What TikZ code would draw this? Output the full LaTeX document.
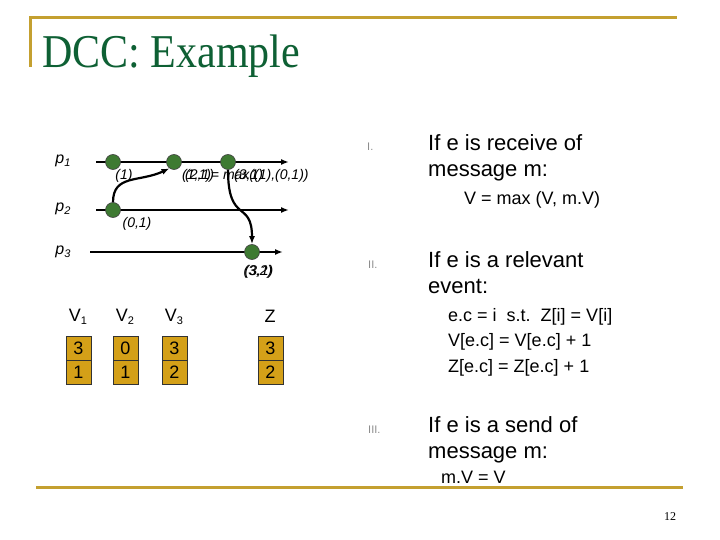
\documentclass[tikz,border=0pt]{standalone}
\usepackage{fontspec}
\setmainfont{Liberation Sans}
\newfontfamily\serifface{Liberation Serif}
\usetikzlibrary{arrows.meta}

\definecolor{slidegold}{RGB}{196,160,48}
\definecolor{slidegreen}{RGB}{14,96,52}
\definecolor{dotgreen}{RGB}{62,122,50}
\definecolor{cellgold}{RGB}{212,160,24}

\newcommand{\sub}[1]{\raisebox{-3pt}{\fontsize{11}{11}\selectfont #1}}

\begin{document}
\begin{tikzpicture}[x=1pt, y=-1pt,
	proc/.style={line width=2pt, -{Latex[length=8pt,width=6pt]}},
	msg/.style={line width=2.2pt, -{Latex[length=8pt,width=6pt]}},
	event/.style={circle, fill=dotgreen, draw=black!75, line width=0.6pt, minimum size=15pt, inner sep=0pt},
	plab/.style={font=\fontsize{16}{18}\selectfont\itshape},
	evlab/.style={font=\fontsize{14}{16}\selectfont\itshape, inner sep=0pt},
	cell/.style={draw=black!80, fill=cellgold, minimum width=25pt, minimum height=24pt, inner sep=0pt, font=\fontsize{18}{20}\selectfont},
	vlab/.style={font=\fontsize{18}{20}\selectfont},
	numeral/.style={font=\fontsize{11}{12}\selectfont, text=black!45, anchor=base west, inner sep=0pt},
	bodytext/.style={font=\fontsize{22}{26}\selectfont, anchor=base west, inner sep=0pt},
	subtext/.style={font=\fontsize{18}{20}\selectfont, anchor=base west, inner sep=0pt},
	rule/.style={line width=3pt, slidegold}
	]
	\useasboundingbox (0,0) rectangle (720,540);

	% frame of the slide
	\draw[rule] (30,67) -- (30,18) -- (677,18);
	\draw[rule] (36,487) -- (683,487);
	\node[anchor=base west, inner sep=0pt, text=slidegreen, font=\serifface\fontsize{42}{44}\selectfont] (title) at (42,68) {\scalebox{1}[1.12]{DCC: Example}};
	\node[font=\serifface\fontsize{12}{14}\selectfont] (page) at (670,517) {12};

	% processes
	\node[plab] (p1) at (63,161) {p\sub{1}};
	\node[plab] (p2) at (63,209) {p\sub{2}};
	\node[plab] (p3) at (63,252) {p\sub{3}};
	\coordinate (p1s) at (96,162);  \coordinate (p1e) at (289,162);
	\coordinate (p2s) at (96,210);  \coordinate (p2e) at (289,210);
	\coordinate (p3s) at (90,252);  \coordinate (p3e) at (283,252);
	\draw[proc] (p1s) -- (p1e);
	\draw[proc] (p2s) -- (p2e);
	\draw[proc] (p3s) -- (p3e);

	% events
	\node[event] (p1a) at (113,162) {};
	\node[event] (p1b) at (174,162) {};
	\node[event] (p1c) at (228,162) {};
	\node[event] (p2a) at (113,210) {};
	\node[event] (p3a) at (252,252) {};

	% messages
	\draw[msg] (p2a.north) .. controls +(0,-28) and +(-30,14) .. (p1b.235);
	\draw[msg] (p1c.south) .. controls +(0,55) and +(0,-45) .. (p3a.north);

	% vector labels
	\node[evlab] (l1) at (124,176) {(1)};
	\node[evlab, anchor=west] (l2) at (182,176) {(1,1)= max((1),(0,1))};
	\node[evlab, anchor=west] (l2b) at (185,176) {(2,1)};
	\node[evlab, anchor=west] (l2c) at (234,176) {(3,1)};
	\node[evlab] (l3) at (137,224) {(0,1)};
	\node[evlab] (l4) at (258,272) {(3,2)};
	\node[evlab] (l4b) at (259,272) {(3,1)};

	% vectors
	\node[vlab] (v1) at (78,317) {V\sub{1}};
	\node[vlab] (v2) at (125,317) {V\sub{2}};
	\node[vlab] (v3) at (174,317) {V\sub{3}};
	\node[vlab] (z) at (270,316) {Z};
	\node[cell] (v1a) at (78.5,348) {3};
	\node[cell] (v1b) at (78.5,372) {1};
	\node[cell] (v2a) at (125.5,348) {0};
	\node[cell] (v2b) at (125.5,372) {1};
	\node[cell] (v3a) at (174.5,348) {3};
	\node[cell] (v3b) at (174.5,372) {2};
	\node[cell] (za) at (270.5,348) {3};
	\node[cell] (zb) at (270.5,372) {2};

	% rules
	\node[numeral] (n1) at (367,151) {I.};
	\node[bodytext] (r1) at (428,151) {If e is receive of};
	\node[bodytext] (r1b) at (428,177) {message m:};
	\node[subtext] (r1c) at (464,205) {V = max (V, m.V)};
	\node[numeral] (n2) at (368,268) {II.};
	\node[bodytext] (r2) at (428,267) {If e is a relevant};
	\node[bodytext] (r2b) at (428,293) {event:};
	\node[subtext] (r2c) at (448,321) {e.c = i\ \ s.t.\ \ Z[i] = V[i]};
	\node[subtext] (r2d) at (448,346) {V[e.c] = V[e.c] + 1};
	\node[subtext] (r2e) at (448,372) {Z[e.c] = Z[e.c] + 1};
	\node[numeral] (n3) at (368,433) {III.};
	\node[bodytext] (r3) at (428,432) {If e is a send of};
	\node[bodytext] (r3b) at (428,458) {message m:};
	\node[subtext] (r3c) at (441,483) {m.V = V};
\end{tikzpicture}
\end{document}
